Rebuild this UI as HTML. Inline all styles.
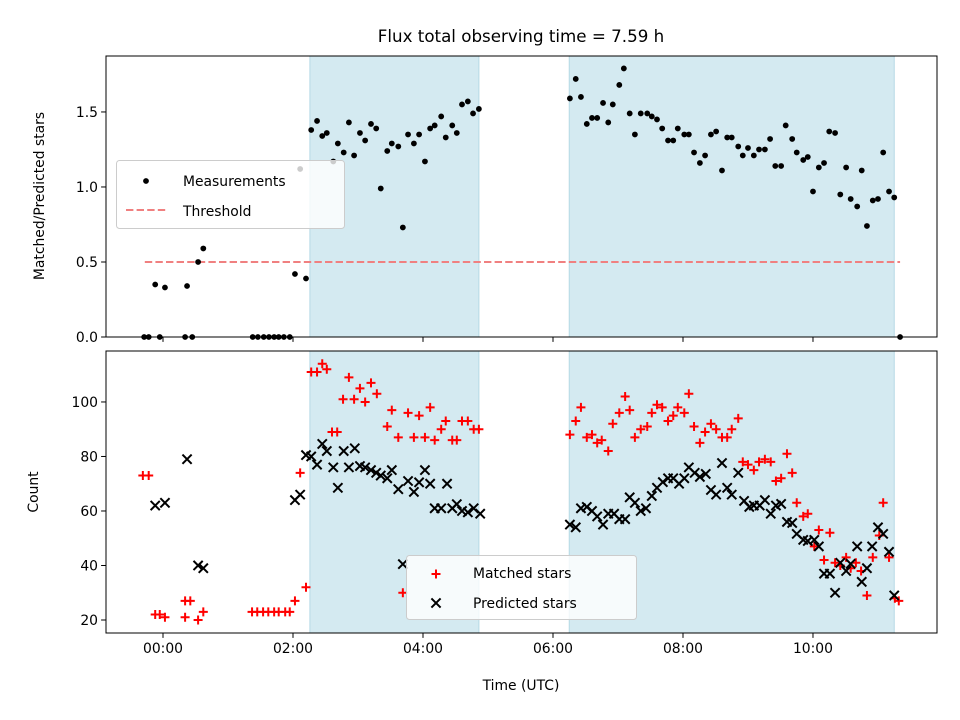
<!DOCTYPE html>
<html><head><meta charset="utf-8">
<style>
html,body{margin:0;padding:0;background:#fff;}
svg{display:block;font-family:"DejaVu Sans","Liberation Sans",sans-serif;}
</style></head>
<body>
<svg id="chart" width="960" height="720" viewBox="0 0 960 720" xmlns="http://www.w3.org/2000/svg">
<text x="521" y="42" font-size="16.7" text-anchor="middle">Flux total observing time = 7.59 h</text>
<g id="top"></g>
<g id="bot"></g>
</svg>
<script>
// ---- data ----
const xTickLabels = ["00:00","02:00","04:00","06:00","08:00","10:00"];
const xTickHours = [0,2,4,6,8,10];
const shadedStart = [2.26, 6.25];
const shadedEnd = [4.86, 11.25];
const threshold = 0.5;
const thresholdStart = -0.28, thresholdEnd = 11.34;
const topYTicks = [0,0.5,1.0,1.5];
const botYTicks = [20,40,60,80,100];

const measT = [-0.29,-0.22,-0.05,-0.12,0.03,0.34,0.45,0.37,0.54,0.62,1.38,1.46,1.55,1.63,1.71,1.78,1.86,1.95,
2.03,2.11,2.20,2.28,2.37,2.45,2.52,2.62,2.69,2.78,2.86,2.94,3.03,3.11,3.20,3.28,3.35,3.45,3.52,3.62,3.69,3.77,3.86,3.94,4.03,4.11,4.18,4.28,4.35,4.45,4.52,4.60,4.69,4.77,4.86,
6.26,6.35,6.43,6.52,6.60,6.68,6.77,6.85,6.92,7.02,7.09,7.18,7.26,7.35,7.45,7.52,7.60,7.68,7.77,7.85,7.92,8.02,8.09,8.17,8.26,8.34,8.43,8.51,8.60,8.68,8.75,8.85,8.92,9.00,9.09,9.17,9.26,9.34,9.42,9.51,9.58,9.68,9.75,9.85,9.92,10.00,10.09,10.17,10.25,10.34,10.42,10.51,10.58,10.68,10.75,10.83,10.92,11.00,11.08,11.17,11.25,11.34];
const measV = [0,0,0,0.35,0.33,0,0,0.34,0.50,0.59,0,0,0,0,0,0,0,0,
0.42,1.12,0.39,1.38,1.44,1.34,1.36,1.17,1.29,1.23,1.43,1.21,1.36,1.31,1.42,1.39,0.99,1.24,1.29,1.27,0.73,1.35,1.29,1.35,1.17,1.39,1.41,1.47,1.33,1.41,1.36,1.55,1.57,1.49,1.52,
1.59,1.72,1.60,1.42,1.46,1.46,1.56,1.43,1.55,1.68,1.79,1.49,1.35,1.49,1.49,1.47,1.45,1.39,1.31,1.31,1.39,1.35,1.35,1.23,1.16,1.21,1.35,1.37,1.11,1.33,1.33,1.27,1.21,1.26,1.21,1.25,1.25,1.32,1.14,1.14,1.41,1.32,1.23,1.18,1.20,0.97,1.13,1.16,1.37,1.36,0.95,1.13,0.92,0.87,1.11,0.74,0.91,0.92,1.23,0.97,0.93,0];

const matchedT = [-0.31,-0.22,-0.12,-0.05,0.03,0.34,0.42,0.34,0.54,0.62,1.37,1.45,1.54,1.62,1.71,1.78,1.88,1.95,2.03,2.11,2.20,
2.28,2.37,2.45,2.52,2.60,2.68,2.77,2.86,2.94,3.03,3.11,3.20,3.29,3.45,3.52,3.62,3.69,3.77,3.86,3.94,4.03,4.11,4.18,4.28,4.35,4.45,4.52,4.60,4.69,4.78,4.86,
6.26,6.35,6.43,6.52,6.60,6.68,6.75,6.85,6.92,7.02,7.11,7.18,7.26,7.35,7.45,7.52,7.60,7.68,7.77,7.85,7.92,8.02,8.09,8.17,8.26,8.34,8.43,8.51,8.60,8.68,8.75,8.85,
8.92,9.00,9.09,9.17,9.26,9.35,9.43,9.51,9.60,9.68,9.75,9.85,9.92,10.02,10.09,10.17,10.26,10.34,10.42,10.51,10.58,10.66,10.74,10.83,10.92,11.02,11.08,11.17,11.26,11.32];
const matchedV = [73,73,22,22,21,27,27,21,20,23,23,23,23,23,23,23,23,23,27,74,32,
111,111,114,112,89,89,101,109,101,105,100,107,103,91,97,87,30,96,87,95,87,98,86,90,93,86,86,93,93,90,90,
88,93,98,87,88,85,86,82,92,96,102,97,87,90,91,96,99,98,93,95,98,96,103,91,85,89,92,90,87,87,90,94,
78,77,75,78,79,78,71,72,81,74,63,58,59,47,53,42,52,41,40,43,39,41,38,29,43,51,63,43,28,27];

const predT = [-0.12,0.03,0.37,0.54,0.62,2.03,2.11,2.20,2.28,2.37,2.45,2.52,2.62,2.69,2.78,2.86,2.95,3.03,3.11,3.20,3.28,3.35,3.45,3.52,3.62,3.69,3.77,3.86,3.94,4.03,4.11,4.18,4.28,4.37,4.45,4.52,4.60,4.69,4.78,4.88,
6.26,6.35,6.43,6.52,6.60,6.68,6.77,6.85,6.94,7.02,7.11,7.18,7.26,7.35,7.43,7.52,7.60,7.69,7.77,7.85,7.94,8.02,8.09,8.18,8.26,8.35,8.43,8.51,8.60,8.68,8.75,8.85,8.94,9.02,9.09,9.18,9.26,9.35,9.43,9.51,9.60,9.68,9.75,9.85,9.92,10.02,10.09,10.17,10.26,10.34,10.42,10.51,10.58,10.68,10.75,10.83,10.91,11.00,11.08,11.17,11.25];
const predV = [62,63,79,40,39,64,66,80.5,80,77,84.6,82,76,68.5,82,76,83,76.5,76,75,74,73,72,75,68,40.5,71,67,70.5,75,70,61,61,70,61,62.5,60,59.5,61,59,
55,54,61,61.5,60,58,55,59,59,57,57,65,63,60,61,65.5,68.5,70.6,72,72,70,72,76,74,72.5,73.6,67.7,66,77.6,68.5,66,74,63.7,61.5,62,62,64,59,62,62.6,56,55.6,51.6,49.4,49,49.4,47,37,37,30,41,38,40.6,47,34,39,47,54,51.6,45,29];

// ---- axes ----
const X0=106, X1=937, xMin=-0.877, xMax=11.908;
const xs = h => X0 + (h - xMin) / (xMax - xMin) * (X1 - X0);
const topY0=56, topY1=337, topMin=0, topMax=1.873;
const ysTop = v => topY1 - (v - topMin) / (topMax - topMin) * (topY1 - topY0);
const botY0=351, botY1=633, botMin=15.23, botMax=118.7;
const ysBot = v => botY1 - (v - botMin) / (botMax - botMin) * (botY1 - botY0);

const NS="http://www.w3.org/2000/svg";
function mk(tag, attrs, parent){const e=document.createElementNS(NS,tag);for(const k in attrs)e.setAttribute(k,attrs[k]);parent.appendChild(e);return e;}

function drawAxesFrame(g, y0, y1, yTicks, ys, fmt, showXLabels){
  for(let i=0;i<shadedStart.length;i++){
    const r=mk('rect',{x:xs(shadedStart[i]),y:y0,width:xs(shadedEnd[i])-xs(shadedStart[i]),height:y1-y0,fill:'#d4eaf1',stroke:'#b5d9e5','stroke-width':1},g);
    
    
  }
  const frame=mk('rect',{x:X0,y:y0,width:X1-X0,height:y1-y0,fill:'none',stroke:'#000','stroke-width':1},g);
  
  
  for(let i=0;i<xTickHours.length;i++){
    const x=xs(xTickHours[i]);
    mk('line',{x1:x,x2:x,y1:y1,y2:y1+4.9,stroke:'#000','stroke-width':1},g);
    if(showXLabels){
      const t=mk('text',{x:x,y:y1+20,'font-size':13.9,'text-anchor':'middle'},g);
      t.textContent=xTickLabels[i];
      
      
    }
  }
  for(const v of yTicks){
    const y=ys(v);
    mk('line',{x1:X0-4.9,x2:X0,y1:y,y2:y,stroke:'#000','stroke-width':1},g);
    const t=mk('text',{x:X0-8,y:y+5,'font-size':13.9,'text-anchor':'end'},g);
    t.textContent=fmt(v);
    
    
  }
}

// top panel
const gt=document.getElementById('top');


drawAxesFrame(gt, topY0, topY1, topYTicks, ysTop, v=>v.toFixed(1), false);
const th=mk('line',{x1:xs(thresholdStart),x2:xs(thresholdEnd),y1:ysTop(threshold),y2:ysTop(threshold),stroke:'#f08080','stroke-width':2,'stroke-dasharray':'7.4,3.2'},gt);


for(let i=0;i<measT.length;i++){
  const c=mk('circle',{cx:xs(measT[i]),cy:ysTop(measV[i]),r:2.9,fill:'#000'},gt);
  
  
}
const ylt=mk('text',{x:0,y:0,'font-size':13.9,'text-anchor':'middle',transform:'translate(44,196) rotate(-90)'},gt);
ylt.textContent='Matched/Predicted stars';



// bottom panel
const gb=document.getElementById('bot');


drawAxesFrame(gb, botY0, botY1, botYTicks, ysBot, v=>String(v), true);
for(let i=0;i<matchedT.length;i++){
  const x=xs(matchedT[i]), y=ysBot(matchedV[i]);
  const p=mk('path',{d:`M${x-4.5},${y}H${x+4.5}M${x},${y-4.5}V${y+4.5}`,stroke:'#ff0000','stroke-width':2,fill:'none'},gb);
  
  
}
for(let i=0;i<predT.length;i++){
  const x=xs(predT[i]), y=ysBot(predV[i]), s=4.6;
  const p=mk('path',{d:`M${x-s},${y-s}L${x+s},${y+s}M${x-s},${y+s}L${x+s},${y-s}`,stroke:'#000','stroke-width':2,fill:'none'},gb);
  
  
}
const ylb=mk('text',{x:0,y:0,'font-size':13.9,'text-anchor':'middle',transform:'translate(38,492) rotate(-90)'},gb);
ylb.textContent='Count';


const xl=mk('text',{x:521,y:690,'font-size':13.9,'text-anchor':'middle'},gb);
xl.textContent='Time (UTC)';



// legends
const svg=document.getElementById('chart');
const lg1=mk('g',{},svg);


mk('rect',{x:116.5,y:160.5,width:228,height:68,rx:3,fill:'rgba(255,255,255,0.8)',stroke:'#cccccc','stroke-width':1},lg1);
mk('circle',{cx:146,cy:181,r:2.9,fill:'#000'},lg1);
mk('line',{x1:126,x2:166,y1:210,y2:210,stroke:'#f08080','stroke-width':2,'stroke-dasharray':'7.4,3.2'},lg1);
const l1a=mk('text',{x:183,y:186,'font-size':13.9},lg1); l1a.textContent='Measurements';


const l1b=mk('text',{x:183,y:216,'font-size':13.9},lg1); l1b.textContent='Threshold';



const lg2=mk('g',{},svg);


mk('rect',{x:406.5,y:555.5,width:230,height:64,rx:3,fill:'rgba(255,255,255,0.8)',stroke:'#cccccc','stroke-width':1},lg2);
mk('path',{d:'M431.5,574H440.5M436,569.5V578.5',stroke:'#ff0000','stroke-width':2,fill:'none'},lg2);
mk('path',{d:'M431.4,598.4L440.6,607.6M431.4,607.6L440.6,598.4',stroke:'#000','stroke-width':2,fill:'none'},lg2);
const l2a=mk('text',{x:473,y:578,'font-size':13.9},lg2); l2a.textContent='Matched stars';


const l2b=mk('text',{x:473,y:608,'font-size':13.9},lg2); l2b.textContent='Predicted stars';


</script>
</body></html>
